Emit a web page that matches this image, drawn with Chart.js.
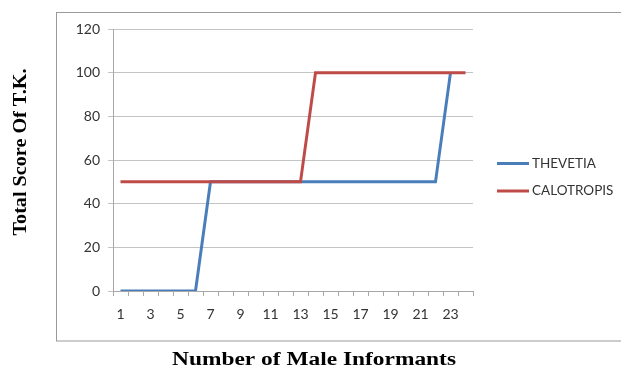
<!DOCTYPE html>
<html>
<head>
<meta charset="utf-8">
<script src="https://cdn.jsdelivr.net/npm/chart.js@4/dist/chart.umd.min.js"></script>
<style>
  html, body { margin: 0; padding: 0; background: #fff; }
  #wrap { width: 621px; height: 370px; }
</style>
</head>
<body>
<div id="wrap"><canvas id="myChart" width="621" height="370"></canvas></div>
<script>
const labels = ['1','2','3','4','5','6','7','8','9','10','11','12',
  '13','14','15','16','17','18','19','20','21','22','23','24'];

const thevetia = [0, 0, 0, 0, 0, 0, 50, 50, 50, 50, 50, 50,
  50, 50, 50, 50, 50, 50, 50, 50, 50, 50, 100];

const calotropis = [50, 50, 50, 50, 50, 50, 50, 50, 50, 50, 50, 50,
  50, 100, 100, 100, 100, 100, 100, 100, 100, 100, 100, 100];

const yTicks = [0, 20, 40, 60, 80, 100, 120];

const xTitle = 'Number of Male Informants';
const yTitle = 'Total Score Of T.K.';

const tickFont = { family: 'Lato', size: 14 };
const gridColor = '#c4c4c4';
const axisColor = '#a8a8a8';

// frame, axis titles and legend, drawn on the canvas
const decor = {
  id: 'decor',
  beforeDraw(chart) {
    const ctx = chart.ctx;
    ctx.save();
    ctx.strokeStyle = '#9a9a9a';
    ctx.lineWidth = 1;
    ctx.strokeRect(56.5, 12.5, 700, 328.5);
    ctx.restore();
  },
  afterDraw(chart) {
    const ctx = chart.ctx;
    ctx.save();
    ctx.fillStyle = '#000';
    ctx.font = 'bold 18px "Liberation Serif"';
    ctx.textAlign = 'center';
    ctx.textBaseline = 'middle';
    ctx.save();
    ctx.translate(314, 360);
    ctx.scale(1.3, 1);
    ctx.fillText(xTitle, 0, 0);
    ctx.restore();
    ctx.translate(21, 152);
    ctx.rotate(-Math.PI / 2);
    ctx.scale(1.12, 1);
    ctx.fillText(yTitle, 0, 0);
    ctx.restore();

    ctx.save();
    ctx.font = '13.5px Lato';
    ctx.textAlign = 'left';
    ctx.textBaseline = 'middle';
    chart.data.datasets.forEach((ds, i) => {
      const y = 163.5 + i * 27.5;
      ctx.strokeStyle = ds.borderColor;
      ctx.lineWidth = 3;
      ctx.beginPath();
      ctx.moveTo(497, y);
      ctx.lineTo(529, y);
      ctx.stroke();
      ctx.fillStyle = '#333';
      ctx.fillText(ds.label, 532, y);
    });
    ctx.restore();
  }
};

const data = {
  labels: labels,
  datasets: [{
    label: 'THEVETIA',
    data: thevetia,
    borderColor: '#4a7ebb',
    backgroundColor: '#4a7ebb',
    borderWidth: 3,
    pointRadius: 0,
    tension: 0,
    order: 1
  }, {
    label: 'CALOTROPIS',
    data: calotropis,
    borderColor: '#be4b48',
    backgroundColor: '#be4b48',
    borderWidth: 3,
    pointRadius: 0,
    tension: 0,
    order: 0
  }]
};

const config = {
  type: 'line',
  data: data,
  options: {
    responsive: false,
    animation: false,
    devicePixelRatio: 1,
    layout: { padding: { top: 29, right: 148, bottom: 0, left: 0 } },
    plugins: {
      legend: { display: false },
      tooltip: { enabled: false }
    },
    scales: {
      x: {
        offset: true,
        afterFit: s => { s.height = 79; },
        grid: {
          offset: true,
          drawOnChartArea: false,
          drawTicks: true,
          tickLength: 5,
          color: axisColor
        },
        border: { display: true, color: axisColor },
        ticks: {
          autoSkip: false,
          maxRotation: 0,
          padding: 10,
          color: '#333',
          font: tickFont,
          callback: (v, i) => (i % 2 === 0 ? labels[i] : '')
        }
      },
      y: {
        min: yTicks[0],
        max: yTicks[yTicks.length - 1],
        afterFit: s => { s.width = 113; },
        afterBuildTicks: s => { s.ticks = yTicks.map(v => ({ value: v })); },
        grid: {
          color: gridColor,
          drawTicks: true,
          tickLength: 5
        },
        border: { display: true, color: axisColor },
        ticks: {
          padding: 8,
          color: '#333',
          font: tickFont
        }
      }
    }
  },
  plugins: [decor]
};

const myChart = new Chart(document.getElementById('myChart'), config);
</script>
</body>
</html>
